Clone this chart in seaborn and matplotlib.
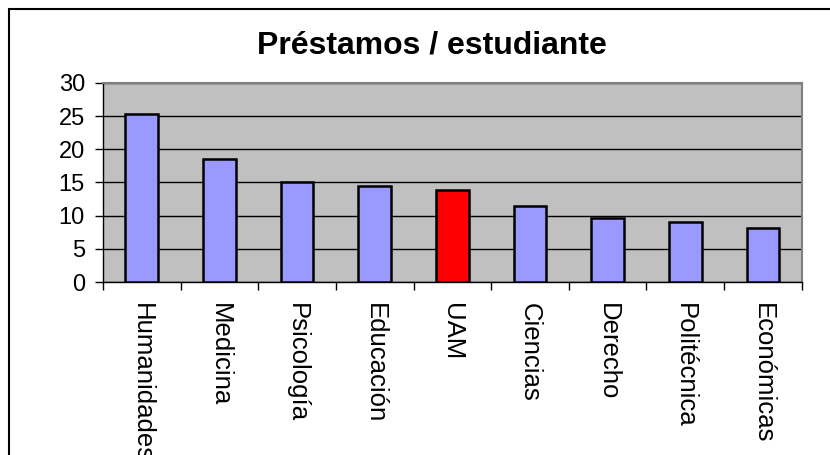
import pandas as pd
import matplotlib
matplotlib.use("Agg")
import matplotlib.pyplot as plt
import seaborn as sns
from matplotlib.patches import Rectangle

# --- Data ---
facultades = ["Humanidades", "Medicina", "Psicología", "Educación", "UAM",
              "Ciencias", "Derecho", "Politécnica", "Económicas"]
prestamos = [25.3, 18.5, 15.0, 14.4, 13.8, 11.5, 9.7, 9.1, 8.2]
grupo = ["fac", "fac", "fac", "fac", "uam", "fac", "fac", "fac", "fac"]

df = pd.DataFrame({"facultad": facultades, "prestamos": prestamos, "grupo": grupo})

sns.set_style("white")
plt.rcParams["font.family"] = ["Liberation Sans", "DejaVu Sans"]
plt.rcParams["text.color"] = "black"
plt.rcParams["xtick.color"] = "black"
plt.rcParams["ytick.color"] = "black"

fig = plt.figure(figsize=(8.3, 4.55), dpi=100)
ax = fig.add_axes([0.124, 0.380, 0.842, 0.438])

sns.barplot(data=df, x="facultad", y="prestamos", hue="grupo",
            palette={"fac": "#9999FF", "uam": "#FF0000"}, saturation=1,
            dodge=False, width=0.42, edgecolor="black", linewidth=1.8,
            legend=False, ax=ax, zorder=3)

ax.set_facecolor("#C0C0C0")
ax.set_ylim(0, 30)
ax.set_xlim(-0.5, len(facultades) - 0.5)
ax.set_yticks(range(0, 31, 5))
ax.yaxis.grid(True, color="black", linewidth=1)
ax.set_axisbelow(True)

for side in ["top", "right"]:
    ax.spines[side].set_color("#808080")
    ax.spines[side].set_linewidth(1.5)
for side in ["left", "bottom"]:
    ax.spines[side].set_color("black")
    ax.spines[side].set_linewidth(1)

ax.set_xlabel("")
ax.set_ylabel("")
ax.tick_params(axis="y", left=True, length=6, width=1, direction="out",
               labelsize=17, pad=7, labelcolor="black")
ax.set_xticks(range(len(facultades)))
ax.set_xticklabels(facultades, rotation=-90, fontsize=18.5, va="top", ha="center",
                   color="black")
ax.tick_params(axis="x", bottom=False, length=0, pad=15)
ax.set_xticks([i - 0.5 for i in range(len(facultades) + 1)], minor=True)
ax.tick_params(axis="x", which="minor", bottom=True, length=6, width=1,
               direction="out")

fig.text(0.52, 0.9, "Préstamos / estudiante", ha="center", va="center",
         fontsize=23, fontweight="bold", color="black")

# outer chart frame
fig.patches.append(Rectangle((9 / 830, -0.1), 1.2, 1.1 - 9 / 455,
                             transform=fig.transFigure, fill=False,
                             edgecolor="black", linewidth=1.5))

fig.savefig("out.png", dpi=100)
